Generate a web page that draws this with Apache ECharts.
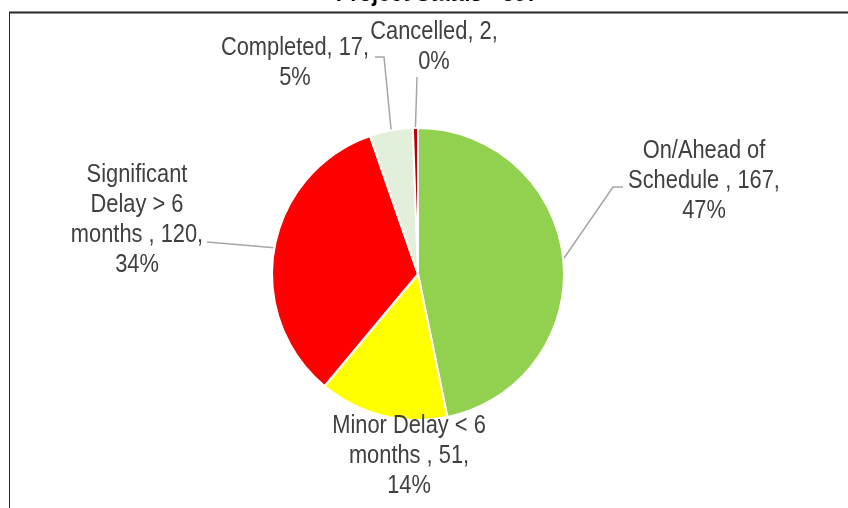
<!DOCTYPE html>
<html>
<head>
<meta charset="utf-8">
<script src="https://cdn.jsdelivr.net/npm/echarts@6/dist/echarts.min.js"></script>
<style>
  html, body { margin: 0; padding: 0; background: #fff; }
  #statusPie { width: 848px; height: 508px; }
</style>
</head>
<body>
<div id="statusPie"></div>
<script>
// 项目状态数据
var statusNames = ['On/Ahead of\nSchedule ', 'Minor Delay < 6\nmonths ', 'Significant\nDelay > 6\nmonths ', 'Completed', 'Cancelled'];
var statusValues = [167, 51, 120, 17, 2];
var statusPct = ['47%', '14%', '34%', '5%', '0%'];
var statusColors = ['#92D050', '#FFFF00', '#FF0000', '#E2EFDA', '#C00000'];
var titleText = 'Project Status - 357';

// label placement (text centre) and elbow of the leader line, per slice
var labelPos = [
    {x: 704, y: 181, elbow: [[613, 187], [623, 187]]},
    {x: 409, y: 456, elbow: null},
    {x: 137, y: 220, elbow: [[207, 242], [207, 242]]},
    {x: 295, y: 63, elbow: [[384, 57], [375, 57]]},
    {x: 434, y: 47, elbow: [[417, 77], [417, 77]]}
];

// narrow font is not installed, so squeeze Liberation Sans
var fontFam = '"Liberation Sans", Arial, sans-serif';
var squeeze = 0.84;

function drawStatusPie() {
    var myChart = echarts.init(document.getElementById('statusPie'));
    var seriesData = [];
    var labelTexts = [];
    for (var i = 0; i < statusValues.length; i++) {
        seriesData.push({
            name: statusNames[i],
            value: statusValues[i],
            itemStyle: {color: statusColors[i]},
            labelLine: {show: labelPos[i].elbow != null}
        });
        labelTexts.push({
            type: 'text',
            x: labelPos[i].x,
            y: labelPos[i].y,
            scaleX: squeeze,
            z: 20,
            style: {
                text: statusNames[i] + ', ' + statusValues[i] + ',\n' + statusPct[i],
                font: '26px ' + fontFam,
                lineHeight: 30,
                fill: '#404040',
                align: 'center',
                verticalAlign: 'middle'
            }
        });
    }

    var option = {
        backgroundColor: '#fff',
        animation: false,
        graphic: [
            {
                type: 'text',
                x: 437, y: 6.5,
                scaleX: squeeze,
                style: {
                    text: titleText,
                    font: 'bold 26px ' + fontFam,
                    fill: '#000',
                    align: 'center',
                    verticalAlign: 'bottom'
                },
                z: 10
            },
            {type: 'line', shape: {x1: 9, y1: 12.5, x2: 848, y2: 12.5}, style: {stroke: '#262626', lineWidth: 2}},
            {type: 'line', shape: {x1: 9.5, y1: 12, x2: 9.5, y2: 508}, style: {stroke: '#262626', lineWidth: 1}}
        ].concat(labelTexts),
        series: [{
            type: 'pie',
            center: [418, 274],
            radius: 146,
            startAngle: 90,
            clockwise: true,
            avoidLabelOverlap: false,
            itemStyle: {borderColor: '#fff', borderWidth: 2},
            label: {
                show: true,
                position: 'outside',
                formatter: ' '
            },
            labelLine: {
                show: true,
                length: 10,
                length2: 10,
                lineStyle: {color: '#a6a6a6', width: 1.5}
            },
            labelLayout: function (params) {
                var pos = labelPos[params.dataIndex];
                var res = {x: pos.x, y: pos.y};
                if (pos.elbow && params.labelLinePoints) {
                    res.labelLinePoints = [params.labelLinePoints[0], pos.elbow[0], pos.elbow[1]];
                }
                return res;
            },
            data: seriesData
        }]
    };
    myChart.setOption(option);
}
drawStatusPie();
</script>
</body>
</html>
